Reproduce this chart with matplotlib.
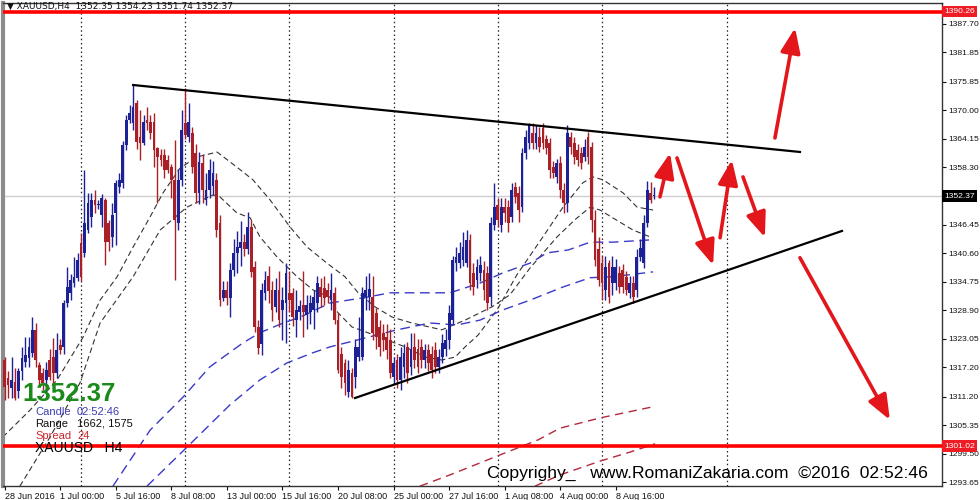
import matplotlib
matplotlib.use("Agg")
import matplotlib.pyplot as plt
import matplotlib.transforms as mtransforms
import numpy as np

plt.rcParams["font.family"] = ["Liberation Sans", "DejaVu Sans"]

# ---- XAUUSD H4 candles (bar 0 = 28 Jun 2016 08:00) ----
opens = [
    1318.7, 1315.0, 1313.0, 1314.2, 1312.3, 1316.4, 1318.3, 1319.1, 1320.2, 1324.9,
    1317.7, 1316.0, 1314.6, 1318.7, 1319.4, 1316.0, 1321.8, 1321.4, 1330.4, 1332.5,
    1334.5, 1335.6, 1342.7, 1340.7, 1345.4, 1348.0, 1351.6, 1350.5, 1348.5, 1351.6,
    1346.8, 1344.0, 1348.9, 1354.2, 1355.0, 1362.8, 1368.0, 1367.4, 1371.5, 1364.5,
    1363.3, 1368.0, 1367.6, 1367.6, 1362.2, 1360.8, 1360.8, 1359.8, 1358.3, 1355.7,
    1346.8, 1355.7, 1367.4, 1364.5, 1365.3, 1361.2, 1353.0, 1359.2, 1351.6, 1353.6,
    1354.5, 1355.7, 1346.8, 1331.5, 1333.0, 1331.5, 1337.2, 1340.7, 1341.8, 1343.0,
    1341.5, 1346.0, 1337.8, 1325.5, 1322.0, 1332.5, 1336.0, 1333.0, 1329.5, 1333.0,
    1329.0, 1330.4, 1332.5, 1332.5, 1327.0, 1328.5, 1330.0, 1328.0, 1328.5, 1329.0,
    1330.4, 1333.7, 1333.5, 1333.0, 1331.0, 1332.5, 1326.9, 1320.0, 1318.0, 1312.2,
    1316.0, 1315.2, 1319.4, 1319.4, 1331.6, 1331.6, 1331.6, 1328.4, 1325.5, 1324.3,
    1323.5, 1322.8, 1315.2, 1318.7, 1314.6, 1317.3, 1321.4, 1317.3, 1321.4, 1321.0,
    1321.4, 1318.7, 1320.8, 1320.0, 1320.8, 1317.3, 1319.4, 1321.0, 1322.8, 1327.0,
    1338.6, 1338.6, 1339.2, 1338.6, 1343.4, 1336.6, 1335.1, 1336.6, 1337.2, 1336.6,
    1331.6, 1346.4, 1350.5, 1346.4, 1350.1, 1350.1, 1348.0, 1354.2, 1353.0, 1350.1,
    1361.2, 1363.3, 1365.3, 1363.3, 1364.5, 1366.3, 1364.0, 1363.3, 1358.3, 1356.3,
    1359.2, 1353.6, 1351.0, 1364.5, 1363.3, 1361.8, 1361.2, 1360.4, 1364.5, 1362.5,
    1347.5, 1341.5, 1338.6, 1333.1, 1338.6, 1334.5, 1334.5, 1336.6, 1337.2, 1335.8,
    1332.5, 1334.5, 1333.1, 1339.9, 1338.6, 1346.8, 1353.0, 1352.35,
]
highs = [
    1319.3, 1316.5, 1319.3, 1317.0, 1317.0, 1321.4, 1323.4, 1323.4, 1327.5, 1326.3,
    1318.3, 1317.0, 1318.3, 1321.0, 1323.2, 1324.3, 1323.0, 1331.0, 1337.8, 1336.3,
    1339.9, 1340.7, 1344.8, 1357.7, 1353.0, 1353.0, 1353.6, 1351.5, 1352.8, 1352.0,
    1347.5, 1351.0, 1355.7, 1357.0, 1363.6, 1369.0, 1371.0, 1375.2, 1372.0, 1370.0,
    1369.0, 1370.7, 1369.0, 1369.4, 1362.5, 1362.0, 1362.0, 1360.8, 1359.0, 1363.9,
    1358.0, 1370.0, 1374.5, 1371.5, 1366.5, 1363.0, 1361.5, 1361.0, 1357.0, 1360.0,
    1359.5, 1357.0, 1348.5, 1335.0, 1335.0, 1338.6, 1343.5, 1345.2, 1347.2, 1344.5,
    1349.0, 1347.5, 1339.0, 1327.0, 1334.5, 1337.0, 1338.0, 1335.0, 1335.5, 1337.0,
    1333.7, 1338.6, 1337.0, 1333.5, 1333.0, 1331.0, 1337.0, 1332.0, 1332.0, 1333.0,
    1336.0, 1335.5, 1336.0, 1334.5, 1336.6, 1333.7, 1328.4, 1321.4, 1319.0, 1318.7,
    1317.0, 1323.0, 1327.5, 1333.7, 1336.0, 1336.6, 1336.0, 1329.4, 1327.0, 1326.0,
    1326.0, 1325.0, 1319.3, 1320.0, 1321.4, 1322.0, 1322.5, 1324.3, 1324.3, 1323.0,
    1323.0, 1322.0, 1322.0, 1321.5, 1322.5, 1321.0, 1324.0, 1325.0, 1330.0, 1340.0,
    1342.0, 1343.0, 1345.0, 1345.4, 1344.5, 1338.6, 1339.5, 1340.0, 1339.0, 1338.0,
    1348.0, 1355.0, 1352.0, 1352.0, 1352.0, 1351.5, 1355.0, 1355.3, 1354.5, 1362.3,
    1366.0, 1367.4, 1367.4, 1367.0, 1366.5, 1367.4, 1365.0, 1364.2, 1359.5, 1360.0,
    1360.5, 1355.0, 1367.0, 1365.5, 1364.5, 1363.0, 1362.5, 1364.0, 1365.5, 1363.5,
    1349.5, 1344.0, 1340.0, 1340.0, 1339.2, 1340.0, 1339.5, 1338.0, 1338.5, 1337.0,
    1336.0, 1336.0, 1341.5, 1343.5, 1348.5, 1355.5, 1355.3, 1354.23,
]
lows = [
    1310.5, 1311.0, 1310.8, 1310.5, 1311.0, 1314.6, 1317.3, 1317.3, 1319.4, 1317.3,
    1313.6, 1312.5, 1312.0, 1314.6, 1314.0, 1315.0, 1320.0, 1320.0, 1329.6, 1331.0,
    1333.7, 1335.0, 1335.0, 1339.9, 1344.8, 1346.0, 1348.9, 1349.8, 1346.0, 1338.2,
    1341.0, 1342.0, 1342.3, 1353.0, 1354.0, 1361.8, 1367.4, 1366.0, 1362.0, 1359.8,
    1362.8, 1366.0, 1364.0, 1358.3, 1351.0, 1358.5, 1356.0, 1357.0, 1352.0, 1335.1,
    1345.5, 1354.5, 1364.0, 1363.5, 1357.0, 1351.0, 1350.8, 1351.0, 1350.5, 1352.0,
    1352.5, 1344.0, 1329.8, 1330.8, 1330.0, 1327.5, 1336.0, 1336.5, 1338.0, 1340.0,
    1340.5, 1335.8, 1324.5, 1320.0, 1319.8, 1331.0, 1330.5, 1326.8, 1328.5, 1325.5,
    1322.8, 1322.2, 1328.5, 1325.7, 1323.5, 1327.0, 1323.5, 1325.0, 1326.0, 1325.0,
    1328.5, 1329.5, 1330.0, 1330.5, 1329.0, 1326.0, 1316.0, 1313.0, 1311.5, 1311.2,
    1310.8, 1313.0, 1318.5, 1318.7, 1329.0, 1329.0, 1322.8, 1321.0, 1319.5, 1320.5,
    1319.0, 1315.0, 1313.8, 1313.0, 1312.6, 1315.0, 1314.0, 1315.6, 1317.0, 1316.0,
    1317.0, 1317.0, 1316.5, 1315.0, 1316.0, 1316.0, 1318.0, 1319.5, 1321.0, 1326.0,
    1337.0, 1337.5, 1338.0, 1337.8, 1333.0, 1332.0, 1333.5, 1335.0, 1331.0, 1329.0,
    1329.8, 1345.4, 1346.0, 1345.0, 1347.0, 1345.0, 1347.0, 1351.0, 1347.0, 1349.0,
    1360.0, 1362.0, 1362.0, 1362.0, 1361.5, 1362.0, 1361.0, 1356.0, 1356.0, 1355.0,
    1352.0, 1348.9, 1349.0, 1361.0, 1359.0, 1358.5, 1358.0, 1359.5, 1359.0, 1345.0,
    1338.0, 1334.0, 1331.0, 1331.0, 1330.4, 1332.0, 1333.0, 1332.5, 1332.5, 1332.0,
    1331.5, 1330.4, 1331.6, 1339.0, 1337.5, 1346.0, 1351.0, 1351.74,
]
closes = [
    1313.2, 1313.5, 1314.6, 1311.0, 1316.4, 1319.1, 1319.7, 1321.4, 1324.9, 1318.7,
    1314.6, 1314.0, 1316.7, 1315.2, 1316.0, 1320.8, 1320.8, 1330.4, 1333.7, 1335.1,
    1335.8, 1339.3, 1335.8, 1346.8, 1351.0, 1351.6, 1350.5, 1350.8, 1352.0, 1342.9,
    1342.9, 1348.5, 1355.0, 1355.7, 1362.8, 1368.0, 1369.4, 1370.7, 1363.5, 1363.3,
    1367.6, 1367.3, 1365.3, 1361.8, 1360.4, 1359.8, 1357.7, 1357.7, 1355.7, 1347.5,
    1355.7, 1365.9, 1364.9, 1367.5, 1358.3, 1353.0, 1359.4, 1353.6, 1353.6, 1357.7,
    1357.0, 1345.4, 1331.0, 1333.0, 1331.5, 1337.2, 1340.7, 1342.0, 1343.0, 1341.5,
    1346.0, 1336.8, 1325.5, 1321.2, 1333.0, 1335.1, 1332.8, 1329.0, 1333.0, 1326.9,
    1331.0, 1336.6, 1331.0, 1327.5, 1329.0, 1329.8, 1328.5, 1330.0, 1330.5, 1331.6,
    1334.5, 1331.6, 1331.5, 1331.6, 1333.0, 1326.9, 1316.7, 1315.2, 1314.0, 1316.7,
    1311.2, 1321.4, 1321.4, 1332.5, 1333.0, 1333.3, 1324.3, 1323.5, 1321.4, 1322.8,
    1320.8, 1316.0, 1318.0, 1314.6, 1319.4, 1320.2, 1316.0, 1320.8, 1318.7, 1317.3,
    1318.7, 1320.8, 1318.0, 1316.7, 1317.3, 1319.4, 1322.2, 1322.8, 1328.4, 1339.2,
    1339.9, 1340.6, 1342.0, 1343.4, 1334.5, 1333.7, 1337.8, 1338.2, 1333.1, 1330.4,
    1346.8, 1350.1, 1347.5, 1350.1, 1348.9, 1346.8, 1353.6, 1352.2, 1349.5, 1361.2,
    1364.5, 1367.0, 1363.3, 1365.3, 1362.5, 1363.3, 1362.3, 1357.7, 1357.1, 1359.2,
    1353.6, 1351.0, 1365.3, 1362.5, 1360.4, 1359.8, 1359.2, 1362.5, 1360.4, 1347.5,
    1339.2, 1335.1, 1334.5, 1337.8, 1331.6, 1337.8, 1337.8, 1333.7, 1333.7, 1333.1,
    1334.5, 1331.6, 1339.9, 1341.8, 1346.8, 1353.6, 1351.6, 1352.37,
]

# ---- moving averages (bar, price knots) ----
ma_black1_bars = [-0.5, 7.3, 15.1, 22.6, 27.5, 32.4, 37.0, 41.9, 45.6, 50.5, 55.4, 61.2,
                  66.9, 71.5, 76.4, 82.2, 87.1, 92.8, 98.0, 101.8, 106.7, 111.6, 117.3,
                  125.9, 132.6, 140.3, 145.5, 151.3, 159.1, 164.2, 168.6, 171.4, 180.9, 185.8]
ma_black1_vals = [1302.9, 1308.4, 1314.6, 1323.4, 1331.0, 1335.8, 1341.9, 1348.1, 1353.0,
                  1358.1, 1360.4, 1361.4, 1358.3, 1355.7, 1351.6, 1346.0, 1341.9, 1338.6,
                  1335.8, 1332.5, 1329.6, 1327.5, 1326.3, 1324.9, 1326.9, 1329.6, 1332.1,
                  1337.6, 1344.0, 1347.5, 1350.1, 1349.5, 1345.4, 1344.0]
ma_black2_bars = [4.4, 13.1, 21.7, 27.5, 37.0, 44.8, 52.5, 60.0, 62.0, 66.9, 70.7, 73.5,
                  78.4, 84.2, 88.8, 93.7, 96.0, 100.0, 104.6, 115.3, 121.1, 125.9, 129.7,
                  132.6, 136.3, 141.8, 147.5, 155.0, 160.8, 166.5, 169.4, 172.3, 178.1,
                  182.1, 186.7]
ma_black2_vals = [1292.8, 1302.9, 1314.0, 1326.3, 1335.8, 1345.4, 1350.1, 1352.6, 1352.2,
                  1348.9, 1347.9, 1344.0, 1339.9, 1335.8, 1333.1, 1331.6, 1328.4, 1325.5,
                  1324.3, 1321.4, 1319.3, 1318.7, 1319.3, 1321.4, 1323.8, 1329.0, 1336.2,
                  1344.0, 1350.1, 1355.1, 1356.3, 1355.7, 1353.0, 1350.1, 1349.5]
ma_blue1_bars = [31.2, 41.9, 51.4, 59.1, 68.6, 73.5, 80.2, 85.1, 93.7, 104.3, 111.0,
                 128.2, 136.9, 143.5, 151.3, 156.2, 162.3, 168.6, 175.2, 186.7]
ma_blue1_vals = [1292.8, 1304.3, 1311.1, 1317.3, 1322.2, 1324.3, 1326.3, 1327.5, 1330.4,
                 1331.6, 1332.5, 1332.5, 1334.5, 1336.6, 1338.6, 1340.7, 1341.3, 1342.9,
                 1342.9, 1343.4]
ma_blue2_bars = [41.0, 52.5, 64.9, 73.5, 81.3, 88.8, 93.7, 101.5, 113.0, 122.5, 130.3,
                 136.9, 143.5, 151.3, 160.8, 168.6, 175.2, 186.7]
ma_blue2_vals = [1292.8, 1300.8, 1309.5, 1314.6, 1318.1, 1320.2, 1321.4, 1322.8, 1324.9,
                 1326.3, 1325.9, 1326.9, 1329.0, 1331.0, 1333.7, 1335.6, 1335.8, 1336.8]
ma_red1_bars = [119.6, 128.2, 142.6, 153.6, 159.9, 171.4, 186.7]
ma_red1_vals = [1292.8, 1295.1, 1299.2, 1302.3, 1304.7, 1306.8, 1309.1]
ma_red2_bars = [152.7, 159.9, 171.7, 180.1, 187.3]
ma_red2_vals = [1292.8, 1295.1, 1298.0, 1299.8, 1301.5]

# ---- drawn objects ----
tl_upper_bars, tl_upper_prices = [37.0, 229.0], [1375.17, 1361.42]
tl_lower_bars, tl_lower_prices = [100.9, 241.1], [1310.9, 1345.2]
levels = [1390.26, 1301.02]
bid = 1352.37
arrow_from = [(221.8, 1364.3), (188.7, 1352.2), (193.6, 1360.2),
              (206.0, 1343.8), (212.6, 1356.3), (229.0, 1339.7)]
arrow_to = [(227.6, 1386.9), (191.6, 1361.2), (204.0, 1338.2),
            (209.4, 1359.8), (218.9, 1343.9), (254.9, 1306.4)]

week_bars = [22, 52, 82, 112, 142, 172, 208]
xtick_bars = [0, 16, 32, 48, 64, 80, 96, 112, 128, 144, 160, 176]
xtick_labels = ["28 Jun 2016", "1 Jul 00:00", "5 Jul 16:00", "8 Jul 08:00",
                "13 Jul 00:00", "15 Jul 16:00", "20 Jul 08:00", "25 Jul 00:00",
                "27 Jul 16:00", "1 Aug 08:00", "4 Aug 00:00", "8 Aug 16:00"]
ytick_vals = [1387.70, 1381.85, 1375.85, 1370.00, 1364.15, 1358.30, 1346.45, 1340.60,
              1334.75, 1328.90, 1323.05, 1317.20, 1311.20, 1305.35, 1299.50, 1293.65]

BLUE, RED = "#1c2196", "#ab1f27"
ARROW = "#e3161b"

fig = plt.figure(figsize=(9.8, 5.0), dpi=100)
fig.patch.set_facecolor("white")
ax = fig.add_axes([3 / 980, 14 / 500, 939 / 980, 483 / 500])
ax.set_facecolor("white")
ax.set_xlim(-0.46, 269.9)
ax.set_ylim(1292.83, 1392.01)

# week separators + bid line
for b in week_bars:
    ax.axvline(b, color="#222222", ls=(0, (1.2, 2.2)), lw=0.9, zorder=1)
ax.axhline(bid, color="#cfcfcf", lw=1.0, zorder=1)

# moving averages
ax.plot(ma_black1_bars, ma_black1_vals, color="#333333", lw=0.8, dashes=(5, 3), zorder=2)
ax.plot(ma_black2_bars, ma_black2_vals, color="#333333", lw=0.8, dashes=(5, 3), zorder=2)
ax.plot(ma_blue1_bars, ma_blue1_vals, color="#3a3ac8", lw=1.0, dashes=(7, 4), zorder=2)
ax.plot(ma_blue2_bars, ma_blue2_vals, color="#3a3ac8", lw=1.0, dashes=(7, 4), zorder=2)
ax.plot(ma_red1_bars, ma_red1_vals, color="#b4283c", lw=1.0, dashes=(6, 4), zorder=2)
ax.plot(ma_red2_bars, ma_red2_vals, color="#b4283c", lw=1.0, dashes=(6, 4), zorder=2)

# candles
x = np.arange(len(closes))
o, h, l, c = (np.array(v) for v in (opens, highs, lows, closes))
col = np.where(c >= o, BLUE, RED)
ax.vlines(x, l, h, colors=col, lw=1.0, zorder=3)
ax.bar(x, np.maximum(np.abs(c - o), 0.3), bottom=np.minimum(o, c), width=0.8,
       color=col, lw=0, zorder=4)

# trendlines and levels
ax.plot(tl_upper_bars, tl_upper_prices, color="black", lw=1.6, zorder=5)
ax.plot(tl_lower_bars, tl_lower_prices, color="black", lw=1.6, zorder=5)
for lv in levels:
    ax.axhline(lv, color="#ff0000", lw=2.6, zorder=5)

for (x0, y0), (x1, y1) in zip(arrow_from, arrow_to):
    ax.annotate("", xy=(x1, y1), xytext=(x0, y0),
                arrowprops=dict(arrowstyle="-|>,head_length=0.75,head_width=0.3",
                                color=ARROW, lw=2.6, shrinkA=0, shrinkB=0,
                                mutation_scale=20), zorder=6)

# axes styling
ax.yaxis.tick_right()
ax.set_yticks(ytick_vals)
ax.set_yticklabels([f"{v:.2f}" for v in ytick_vals])
ax.tick_params(axis="y", length=3, width=0.8, labelsize=6.1, pad=1.5, colors="#111111")
ax.set_xticks(xtick_bars)
ax.set_xticklabels(xtick_labels, ha="left")
ax.tick_params(axis="x", length=3, width=0.8, labelsize=6.5, pad=1, colors="#111111")
for s in ("top", "bottom", "right"):
    ax.spines[s].set_color("#333333")
    ax.spines[s].set_linewidth(1.0)
ax.spines["left"].set_color("#8c8c8c")
ax.spines["left"].set_linewidth(3)

# price tags on the scale
tr = mtransforms.blended_transform_factory(ax.transAxes, ax.transData)
for price, bg in [(1390.26, "#ee1c24"), (bid, "black"), (1301.02, "#ee1c24")]:
    ax.text(1.002, price, f"{price:.2f}", transform=tr, color="white", fontsize=6.1,
            va="center", ha="left", clip_on=False, zorder=10,
            bbox=dict(boxstyle="square,pad=0.25", fc=bg, ec="none"))

# header and info block
def fx(px):
    return px / 980

def fy(py):
    return 1 - py / 500

fig.text(fx(7), fy(6), "\u25bc XAUUSD,H4  1352.35 1354.23 1351.74 1352.37",
         fontsize=6.5, va="center", color="#111111", family=["DejaVu Sans"])
fig.text(fx(22), fy(394), "1352.37", fontsize=18.5, fontweight="bold",
         color="#1a8a1a", va="center")
fig.text(fx(35), fy(412), "Candle", fontsize=8, color="#3c3cb4", va="center")
fig.text(fx(77), fy(412), "02:52:46", fontsize=8, color="#3c3cb4", va="center")
fig.text(fx(35), fy(424), "Range", fontsize=8, color="#111111", va="center")
fig.text(fx(77), fy(424), "1662, 1575", fontsize=8, color="#111111", va="center")
fig.text(fx(35), fy(436), "Spread", fontsize=8, color="#c8282d", va="center")
fig.text(fx(77), fy(436), "24", fontsize=8, color="#c8282d", va="center")
fig.text(fx(35), fy(448), "XAUUSD   H4", fontsize=10, color="black", va="center")
fig.text(fx(487), fy(473), "Copyrighy_   www.RomaniZakaria.com  \u00a92016  02:52:46",
         fontsize=12.6, color="black", va="center")

fig.savefig("out.png", dpi=100, facecolor="white")
